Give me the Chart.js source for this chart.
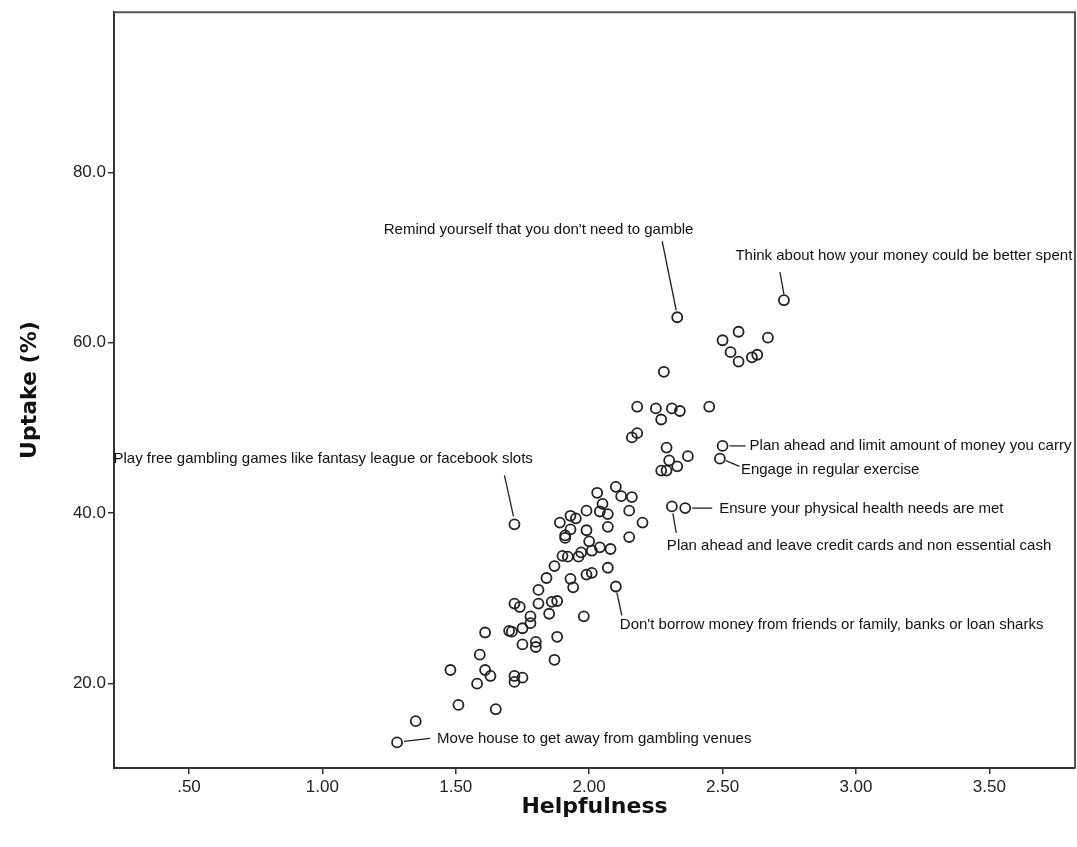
<!DOCTYPE html>
<html><head><meta charset="utf-8">
<script src="https://cdn.jsdelivr.net/npm/chart.js@4.4.1/dist/chart.umd.min.js"></script>
<style>html,body{margin:0;padding:0;background:#fff;overflow:hidden}canvas{display:block}</style>
</head><body>
<canvas id="c" width="1077" height="847"></canvas>
<script>
// ---- data ----
const helpfulness = [
  2.73, 2.33, 2.56, 2.50, 2.67, 2.53, 2.56, 2.61, 2.63, 2.28,
  2.18, 2.25, 2.31, 2.34, 2.27, 2.45, 2.16, 2.18, 2.29, 2.30,
  2.37, 2.33, 2.27, 2.29, 2.50, 2.49, 2.31, 2.36, 2.10, 2.03,
  2.12, 2.16, 2.05, 2.04, 2.07, 2.15, 1.99, 2.20, 2.07, 2.15,
  1.89, 1.93, 1.95, 1.93, 1.91, 1.91, 1.99, 2.00, 2.04, 2.01,
  2.08, 1.97, 1.96, 1.90, 1.92, 1.87, 1.84, 1.93, 1.99, 2.01,
  2.07, 1.94, 2.10, 1.81, 1.81, 1.86, 1.88, 1.85, 1.98, 1.72,
  1.74, 1.78, 1.78, 1.75, 1.70, 1.71, 1.61, 1.88, 1.75, 1.80,
  1.80, 1.87, 1.59, 1.48, 1.61, 1.63, 1.58, 1.72, 1.75, 1.72,
  1.51, 1.65, 1.35, 1.28, 1.72
];
const uptake = [
  65.0, 63.0, 61.3, 60.3, 60.6, 58.9, 57.8, 58.3, 58.6, 56.6,
  52.5, 52.3, 52.3, 52.0, 51.0, 52.5, 48.9, 49.4, 47.7, 46.2,
  46.7, 45.5, 45.0, 45.0, 47.9, 46.4, 40.8, 40.6, 43.1, 42.4,
  42.0, 41.9, 41.1, 40.2, 39.9, 40.3, 40.3, 38.9, 38.4, 37.2,
  38.9, 39.7, 39.4, 38.1, 37.4, 37.1, 38.0, 36.7, 36.0, 35.6,
  35.8, 35.4, 34.9, 35.0, 34.9, 33.8, 32.4, 32.3, 32.8, 33.0,
  33.6, 31.3, 31.4, 31.0, 29.4, 29.6, 29.7, 28.2, 27.9, 29.4,
  29.0, 27.9, 27.1, 26.5, 26.2, 26.1, 26.0, 25.5, 24.6, 24.9,
  24.3, 22.8, 23.4, 21.6, 21.6, 20.9, 20.0, 20.9, 20.7, 20.2,
  17.5, 17.0, 15.6, 13.1, 38.7
];
const xTicks = [0.5, 1.0, 1.5, 2.0, 2.5, 3.0, 3.5];
const yTicks = [20, 40, 60, 80];
const xTitle = 'Helpfulness';
const yTitle = 'Uptake (%)';

// labelled points: index into the data, text
const noteIndex = [0, 1, 94, 24, 25, 27, 26, 62, 93];
const noteText = [
  'Think about how your money could be better spent',
  "Remind yourself that you don't need to gamble",
  'Play free gambling games like fantasy league or facebook slots',
  'Plan ahead and limit amount of money you carry',
  'Engage in regular exercise',
  'Ensure your physical health needs are met',
  'Plan ahead and leave credit cards and non essential cash',
  "Don't borrow money from friends or family, banks or loan sharks",
  'Move house to get away from gambling venues'
];
// label placement relative to its point (pixels): text offset, leader start, leader end
const notePlace = [
  {dx:-48.5, dy:-44.5, a:[0,-6],  b:[-4,-28]},
  {dx:-293.5,dy:-87.5, a:[-1,-7], b:[-15,-76]},
  {dx:-401,  dy:-65,   a:[-1,-8], b:[-10,-49]},
  {dx:27,    dy:0,     a:[7,0],   b:[23,0]},
  {dx:21,    dy:11,    a:[6,2],   b:[19.6,7.7]},
  {dx:34,    dy:0.5,   a:[7,0],   b:[27,0]},
  {dx:-5,    dy:39,    a:[1,7],   b:[4.4,26.6]},
  {dx:4,     dy:38,    a:[1,6],   b:[6,29]},
  {dx:40,    dy:-4,    a:[7,-1],  b:[33,-4]}
];

const framePlugin = {
  id: 'frame',
  beforeDatasetsDraw(chart) {
    const {ctx, chartArea: ca} = chart;
    ctx.save();
    ctx.strokeStyle = '#555';
    ctx.lineWidth = 2;
    ctx.beginPath();
    ctx.moveTo(ca.left, ca.top);
    ctx.lineTo(ca.right, ca.top);
    ctx.lineTo(ca.right, ca.bottom);
    ctx.stroke();
    ctx.restore();
  }
};

const notesPlugin = {
  id: 'notes',
  afterDatasetsDraw(chart) {
    const {ctx} = chart;
    const pts = chart.getDatasetMeta(0).data;
    ctx.save();
    ctx.font = '15px "Liberation Sans", Arial, sans-serif';
    ctx.fillStyle = '#111';
    ctx.strokeStyle = '#222';
    ctx.lineWidth = 1.3;
    ctx.textAlign = 'left';
    ctx.textBaseline = 'middle';
    noteIndex.forEach((idx, k) => {
      const p = pts[idx];
      const pl = notePlace[k];
      ctx.beginPath();
      ctx.moveTo(p.x + pl.a[0], p.y + pl.a[1]);
      ctx.lineTo(p.x + pl.b[0], p.y + pl.b[1]);
      ctx.stroke();
      ctx.fillText(noteText[k], p.x + pl.dx, p.y + pl.dy);
    });
    ctx.restore();
  }
};

const tickFont = {family: '"Liberation Sans", Arial, sans-serif', size: 17};
const titleFont = {family: '"DejaVu Sans", Verdana, sans-serif', size: 22, weight: 'bold'};

new Chart(document.getElementById('c'), {
  type: 'scatter',
  data: {
    datasets: [{
      data: helpfulness.map((x, k) => ({x: x, y: uptake[k]})),
      pointRadius: 5,
      pointHoverRadius: 5,
      pointBorderWidth: 1.8,
      borderColor: '#222',
      backgroundColor: 'rgba(0,0,0,0)',
      pointBackgroundColor: 'rgba(0,0,0,0)'
    }]
  },
  options: {
    responsive: false,
    animation: false,
    devicePixelRatio: 1,
    events: [],
    layout: {autoPadding: false, padding: {top: 11, right: 2, left: 0, bottom: 0}},
    plugins: {legend: {display: false}, tooltip: {enabled: false}},
    scales: {
      x: {
        type: 'linear', min: 0.219, max: 3.821,
        afterBuildTicks: s => { s.ticks = xTicks.map(v => ({value: v})); },
        afterFit: s => { s.height = 79; },
        ticks: {autoSkip: false, maxRotation: 0, padding: 3, color: '#222', font: tickFont,
                callback: v => Number(v).toFixed(2).replace(/^0/, '')},
        grid: {drawOnChartArea: false, drawTicks: true, tickLength: 6, color: '#333', lineWidth: 1.5},
        border: {display: true, color: '#333', width: 2},
        title: {display: true, text: xTitle, font: titleFont, color: '#111', padding: {top: 0, bottom: 27}}
      },
      y: {
        type: 'linear', min: 10.1, max: 98.8,
        afterBuildTicks: s => { s.ticks = yTicks.map(v => ({value: v})); },
        afterFit: s => { s.width = 114; },
        ticks: {autoSkip: false, padding: 2, color: '#222', font: tickFont,
                callback: v => Number(v).toFixed(1)},
        grid: {drawOnChartArea: false, drawTicks: true, tickLength: 6, color: '#333', lineWidth: 1.5},
        border: {display: true, color: '#333', width: 2},
        title: {display: true, text: yTitle, font: titleFont, color: '#111', padding: {top: 17, bottom: 0}}
      }
    }
  },
  plugins: [framePlugin, notesPlugin]
});
</script>
</body></html>
